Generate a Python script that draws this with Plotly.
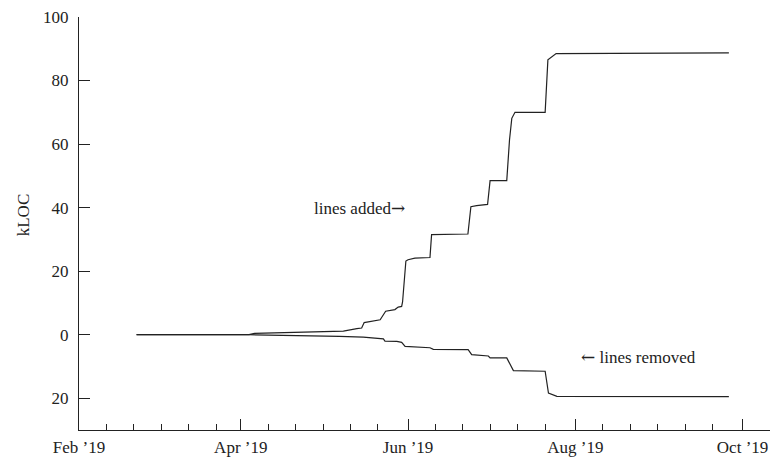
import plotly.graph_objects as go

# ---- data ----
added_dates = [
    "2019-02-22", "2019-04-04", "2019-04-06", "2019-05-01", "2019-05-07",
    "2019-05-08 10:00", "2019-05-13 08:00", "2019-05-15 02:00", "2019-05-16",
    "2019-05-21 02:00", "2019-05-21 20:00", "2019-05-23 20:00", "2019-05-26",
    "2019-05-27 05:00", "2019-05-28 10:00", "2019-05-29 16:00", "2019-05-30",
    "2019-05-31 05:00", "2019-06-01", "2019-06-03 12:00", "2019-06-09",
    "2019-06-09 14:00", "2019-06-22 20:00", "2019-06-23 22:00", "2019-06-26",
    "2019-06-30", "2019-06-30 22:00", "2019-07-07", "2019-07-08",
    "2019-07-08 20:00", "2019-07-10", "2019-07-21", "2019-07-22",
    "2019-07-23", "2019-07-25", "2019-09-26",
]
added_kloc = [
    0.0, 0.0, 0.4, 0.8, 1.0,
    1.15, 1.9, 2.1, 3.8,
    4.5, 4.7, 7.4, 7.7,
    7.9, 8.7, 8.9, 10.3,
    23.2, 23.6, 24.1, 24.3,
    31.5, 31.7, 40.3, 40.6,
    41.0, 48.5, 48.5, 61.3,
    68.1, 70.0, 70.0, 86.5,
    87.1, 88.5, 88.7,
]

removed_dates = [
    "2019-02-22", "2019-04-04", "2019-05-07", "2019-05-15 16:00",
    "2019-05-23", "2019-05-23 14:00", "2019-05-27 22:00", "2019-05-29 16:00",
    "2019-05-30 22:00", "2019-06-09", "2019-06-10 05:00", "2019-06-22 22:00",
    "2019-06-24 05:00", "2019-06-30 07:00", "2019-06-30 22:00", "2019-07-07",
    "2019-07-09 10:00", "2019-07-21", "2019-07-22 05:00", "2019-07-25 07:00",
    "2019-09-26",
]
removed_kloc = [
    0.0, 0.0, 0.5, 0.75,
    1.3, 2.0, 2.1, 2.4,
    3.7, 4.1, 4.6, 4.7,
    6.3, 6.7, 7.3, 7.3,
    11.3, 11.5, 18.4, 19.4,
    19.5,
]

x_tickvals = ["2019-02-01", "2019-04-01", "2019-06-01", "2019-08-01", "2019-10-01"]
x_ticktext = ["Feb ’19", "Apr ’19", "Jun ’19", "Aug ’19", "Oct ’19"]
x_minorvals = [
    "2019-02-11", "2019-02-21", "2019-03-03", "2019-03-13", "2019-03-23",
    "2019-04-11", "2019-04-21", "2019-05-01", "2019-05-11", "2019-05-21",
    "2019-06-11", "2019-06-21", "2019-07-01", "2019-07-11", "2019-07-21",
    "2019-08-11", "2019-08-21", "2019-08-31", "2019-09-10", "2019-09-20",
    "2019-10-11",
]
y_tickvals = [-20, 0, 20, 40, 60, 80, 100]
y_ticktext = ["20", "0", "20", "40", "60", "80", "100"]

FONT = "Liberation Serif"
INK = "#222222"
ARROW = "<span style=\"font-family:'DejaVu Serif'\">{}</span>"

fig = go.Figure()
fig.add_trace(go.Scatter(x=added_dates, y=added_kloc, mode="lines",
                         line=dict(color=INK, width=1.2), showlegend=False))
fig.add_trace(go.Scatter(x=removed_dates, y=[-v for v in removed_kloc], mode="lines",
                         line=dict(color=INK, width=1.2), showlegend=False))

fig.update_layout(
    width=777, height=458,
    margin=dict(l=79, r=7, t=17, b=28),
    paper_bgcolor="white", plot_bgcolor="white",
    font=dict(family=FONT, size=17, color=INK),
    xaxis=dict(
        type="date", range=["2019-02-01", "2019-10-11"],
        automargin=False,
        showgrid=False, zeroline=False,
        showline=True, linecolor=INK, linewidth=1,
        ticks="inside", ticklen=11, tickcolor=INK, tickwidth=1,
        tickmode="array", tickvals=x_tickvals, ticktext=x_ticktext,
        minor=dict(tickmode="array", tickvals=x_minorvals, ticks="inside",
                   ticklen=6, tickcolor=INK, tickwidth=1, showgrid=False),
        tickfont=dict(family=FONT, size=17, color=INK),
        ticklabelstandoff=2,
    ),
    yaxis=dict(
        range=[-30, 100],
        automargin=False,
        showgrid=False, zeroline=False,
        showline=True, linecolor=INK, linewidth=1,
        ticks="inside", ticklen=11, tickcolor=INK, tickwidth=1,
        tickmode="array", tickvals=y_tickvals, ticktext=y_ticktext,
        tickfont=dict(family=FONT, size=17, color=INK),
        ticklabelstandoff=6,
    ),
    annotations=[
        dict(text="kLOC", xref="paper", yref="paper",
             x=-0.081, y=0.52, xanchor="center", yanchor="middle",
             textangle=-90, showarrow=False,
             font=dict(family=FONT, size=17, color=INK)),
        dict(text="lines added" + ARROW.format("→"), xref="x", yref="y",
             x="2019-05-31 17:00", y=40, xanchor="right", yanchor="middle",
             showarrow=False, font=dict(family=FONT, size=17, color=INK)),
        dict(text=ARROW.format("←") + " lines removed", xref="x", yref="y",
             x="2019-08-02 06:00", y=-7, xanchor="left", yanchor="middle",
             showarrow=False, font=dict(family=FONT, size=17, color=INK)),
    ],
)

fig.write_html("out.html", config={"displayModeBar": False},
               post_script="document.body.style.margin='0';document.body.style.overflow='hidden';")
